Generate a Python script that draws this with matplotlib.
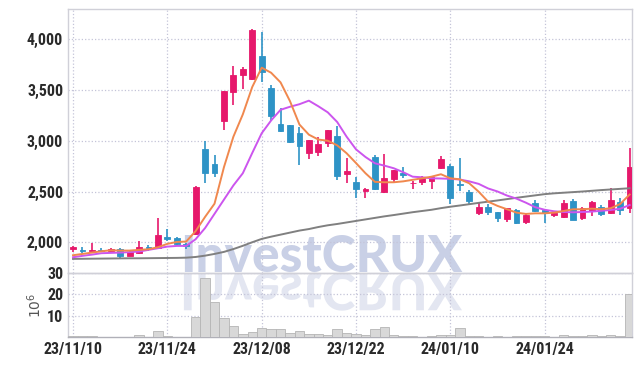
import numpy as np
import matplotlib
matplotlib.use("Agg")
import matplotlib.pyplot as plt
from matplotlib.textpath import TextPath
from matplotlib.patches import PathPatch
from matplotlib.font_manager import FontProperties
from matplotlib import transforms

# x tick labels (every 10 trading days)
tick_pos = [0, 10, 20, 30, 40, 50]
tick_labels = ["23/11/10", "23/11/24", "23/12/08", "23/12/22", "24/01/10", "24/01/24"]

# daily OHLC
opens = [1930, 1922, 1918, 1925, 1918, 1931, 1869, 1898, 1951, 1944,
         2049, 2039, 1980, 2078, 2919, 2771, 3198, 3483, 3648, 3605,
         3835, 3517, 3165, 3152, 3074, 2883, 2893, 2975, 3047, 2670,
         2591, 2502, 2843, 2498, 2620, 2680, 2580, 2591, 2607, 2729,
         2752, 2577, 2495, 2286, 2348, 2298, 2230, 2318, 2203, 2390,
         2318, 2269, 2252, 2407, 2236, 2308, 2345, 2286, 2400, 2335]
closes = [1950, 1915, 1928, 1918, 1934, 1862, 1908, 1954, 1944, 2072,
          2033, 1984, 1964, 2547, 2686, 2686, 3490, 3648, 3707, 4091,
          3680, 3247, 3099, 2985, 2952, 3008, 2968, 3106, 2656, 2702,
          2522, 2525, 2525, 2630, 2712, 2660, 2588, 2630, 2640, 2818,
          2439, 2561, 2410, 2348, 2302, 2242, 2335, 2193, 2269, 2311,
          2286, 2292, 2390, 2220, 2335, 2400, 2276, 2417, 2318, 2739]
highs = [1962, 1957, 1997, 1941, 1944, 1941, 1912, 2016, 1970, 2236,
         2128, 2049, 1990, 2550, 2998, 2860, 3495, 3736, 3724, 4100,
         4074, 3549, 3323, 3160, 3139, 3010, 3037, 3110, 3149, 2827,
         2640, 2530, 2860, 2867, 2715, 2739, 2600, 2653, 2645, 2850,
         2771, 2827, 2515, 2400, 2374, 2300, 2340, 2325, 2275, 2416,
         2330, 2300, 2416, 2423, 2345, 2410, 2370, 2532, 2432, 2928]
lows = [1905, 1893, 1912, 1902, 1912, 1849, 1866, 1885, 1918, 1938,
        2013, 1974, 1931, 2075, 2585, 2646, 3106, 3352, 3507, 3600,
        3582, 3198, 3083, 2975, 2761, 2820, 2853, 2942, 2614, 2587,
        2433, 2436, 2515, 2482, 2581, 2630, 2522, 2564, 2522, 2719,
        2377, 2508, 2367, 2269, 2269, 2203, 2203, 2180, 2180, 2302,
        2193, 2253, 2236, 2220, 2220, 2260, 2260, 2276, 2269, 2286]

# moving average lines as drawn
ma_short = [1872, 1885, 1898, 1911, 1921, 1918, 1918, 1925, 1931, 1951,
            1984, 2003, 2007, 2110, 2250, 2380, 2740, 3040, 3260, 3530,
            3720, 3670, 3575, 3390, 3160, 3060, 3012, 3000, 2955, 2877,
            2780, 2680, 2595, 2591, 2591, 2600, 2615, 2630, 2646, 2670,
            2630, 2620, 2581, 2498, 2400, 2358, 2325, 2292, 2279, 2285,
            2285, 2292, 2308, 2325, 2325, 2331, 2325, 2335, 2377, 2470]
ma_mid = [1852, 1866, 1878, 1892, 1895, 1898, 1903, 1908, 1925, 1941,
          1957, 1964, 1964, 2030, 2140, 2280, 2420, 2560, 2680, 2880,
          3074, 3200, 3305, 3335, 3360, 3395, 3340, 3280, 3185, 3040,
          2915, 2840, 2778, 2755, 2729, 2690, 2646, 2640, 2630, 2628,
          2625, 2618, 2600, 2575, 2530, 2500, 2460, 2430, 2390, 2345,
          2320, 2305, 2298, 2295, 2298, 2302, 2310, 2318, 2330, 2367]
ma_long = [1836, 1837, 1838, 1839, 1840, 1841, 1842, 1842, 1843, 1844,
           1845, 1846, 1848, 1855, 1868, 1885, 1905, 1933, 1965, 2000,
           2033, 2055, 2075, 2095, 2115, 2130, 2150, 2167, 2180, 2195,
           2210, 2225, 2240, 2255, 2268, 2282, 2296, 2308, 2320, 2336,
           2350, 2362, 2375, 2388, 2400, 2412, 2425, 2438, 2450, 2462,
           2474, 2482, 2488, 2494, 2500, 2507, 2514, 2520, 2526, 2532]

# volume in millions
volume = [0.5, 0.5, 0.5, 0.2, 0.2, 0.2, 0.2, 0.9, 0.2, 2.9,
          0.5, 0.2, 0.2, 9.3, 27.4, 16.3, 8.8, 5.1, 1.4, 2.3,
          4.2, 3.7, 3.7, 2.0, 2.8, 1.4, 1.4, 0.9, 3.7, 2.0,
          1.4, 0.9, 3.7, 4.7, 0.9, 0.5, 0.5, 0.3, 0.5, 1.2,
          1.2, 4.2, 0.5, 0.5, 0.2, 0.5, 0.2, 0.5, 0.5, 0.5,
          0.5, 0.3, 0.9, 0.5, 0.5, 0.9, 0.5, 1.2, 0.5, 20.0]

UP = "#e6186b"
DOWN = "#2e93c6"
tick_prop = FontProperties(family=["Roboto Condensed", "DejaVu Sans"],
                           stretch="condensed", weight="bold", size=11.5)

W, H = 642, 366
fig = plt.figure(figsize=(W / 100, H / 100), dpi=100)

x = np.arange(len(opens))
o = np.array(opens, dtype=float)
c = np.array(closes, dtype=float)
colors = [UP if cc >= oo else DOWN for oo, cc in zip(o, c)]

ax = fig.add_axes([68 / W, (H - 272.7) / H, 564 / W, 264.2 / H])
axv = fig.add_axes([68 / W, (H - 337.3) / H, 564 / W, 64.6 / H], sharex=ax)
for a in (ax, axv):
    a.set_facecolor("none")
    a.grid(True, color="#c4c4d8", linestyle=":", linewidth=0.9)
    a.set_axisbelow(True)
    a.tick_params(length=0, labelcolor="#2a2a2a")
    for s in a.spines.values():
        s.set_color("#d0d0d8")
        s.set_linewidth(1.0)

# candles
ax.vlines(x, lows, highs, colors=colors, linewidth=1.2, zorder=3)
body_h = np.maximum(np.abs(c - o), 6)
ax.bar(x, body_h, bottom=np.minimum(o, c), width=0.62, color=colors,
       edgecolor=colors, linewidth=0.6, zorder=4)

ax.plot(x, ma_long, color="#808080", lw=1.4, zorder=5)
ax.plot(x, ma_mid, color="#cc55ee", lw=1.4, zorder=5)
ax.plot(x, ma_short, color="#f0884e", lw=1.4, zorder=5)

ax.set_xlim(-0.53, 59.25)
ax.set_ylim(1700, 4303)
ax.set_yticks([2000, 2500, 3000, 3500, 4000])
ax.set_yticklabels([f"{v:,}" for v in [2000, 2500, 3000, 3500, 4000]])
ax.tick_params(labelbottom=False)

axv.bar(x, volume, width=1.0, color="#d8d8d8", edgecolor="#b5b5b5", linewidth=0.6, zorder=3)
axv.set_ylim(0, 30)
axv.set_yticks([10, 20, 30])
axv.set_xticks(tick_pos)
axv.set_xticklabels(tick_labels)
axv.spines["bottom"].set_color("#b0b0b8")
axv.set_ylabel("$10^6$", fontsize=10, color="#555555", labelpad=2)

for lab in ax.get_yticklabels() + axv.get_yticklabels() + axv.get_xticklabels():
    lab.set_fontproperties(tick_prop)

# watermark with reflection
wm_size = 37
wm_prop = FontProperties(family=["Lato", "DejaVu Sans"], weight="black", size=wm_size)
base_y = H - 272
fig.text(180 / W, base_y / H, "InvestCRUX", fontproperties=wm_prop,
         color="#c9d0e6", ha="left", va="baseline", zorder=-1)
tp = TextPath((0, 0), "InvestCRUX", prop=wm_prop, size=wm_size)
tr = transforms.Affine2D().scale(100 / 72, -100 / 72).translate(180, base_y - 1)
fig.add_artist(PathPatch(tr.transform_path(tp), transform=transforms.IdentityTransform(),
                         facecolor="#e3e6f1", edgecolor="none", zorder=-1))

fig.savefig("out.png", dpi=100)
